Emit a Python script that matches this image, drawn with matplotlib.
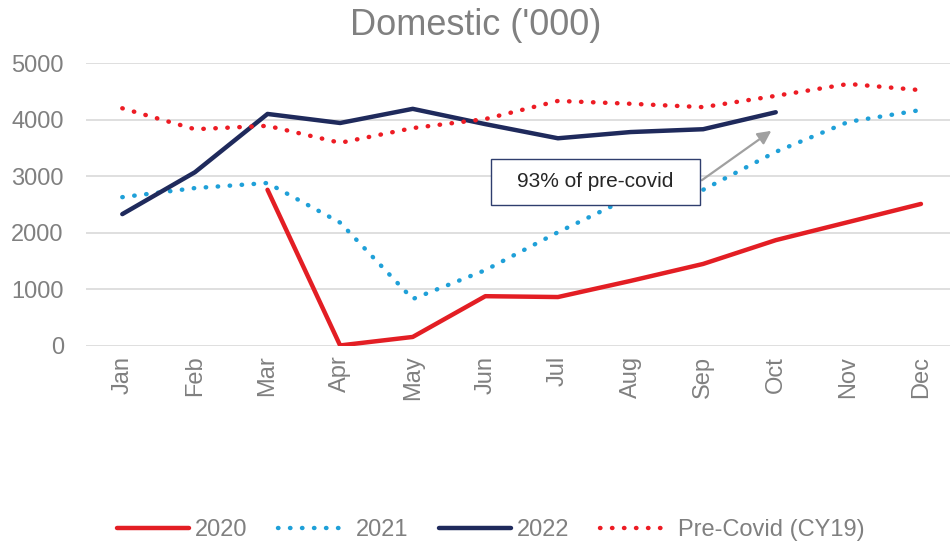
import matplotlib.pyplot as plt
from matplotlib.patches import Rectangle

plt.rcParams['font.family'] = ['Liberation Sans', 'DejaVu Sans']

months = ['Jan', 'Feb', 'Mar', 'Apr', 'May', 'Jun', 'Jul', 'Aug', 'Sep', 'Oct', 'Nov', 'Dec']
y2020 = [None, None, 2760, 10, 160, 880, 865, 1150, 1450, 1870, 2190, 2510]
y2021 = [2630, 2790, 2880, 2180, 830, 1340, 2010, 2630, 2760, 3430, 3960, 4170]
y2022 = [2330, 3070, 4100, 3940, 4190, 3920, 3670, 3780, 3830, 4130]
pre_covid = [4200, 3830, 3890, 3590, 3850, 4010, 4330, 4280, 4220, 4420, 4630, 4520]

fig = plt.figure(figsize=(9.51, 5.48), dpi=100)
ax = fig.add_axes([86 / 951, (548 - 346) / 548, (950 - 86) / 951, 283 / 548])

x = list(range(len(months)))
x20 = [i for i, v in zip(x, y2020) if v is not None]
v20 = [v for v in y2020 if v is not None]

ax.plot(x20, v20, color='#E31E24', lw=3.2, label='2020', solid_capstyle='round')
ax.plot(x, y2021, color='#1FA0D8', lw=3.2, linestyle=(0, (0.1, 2.6)), dash_capstyle='round', label='2021')
ax.plot(x[:len(y2022)], y2022, color='#1F2A5C', lw=3.2, label='2022', solid_capstyle='round')
ax.plot(x, pre_covid, color='#ED1C24', lw=3.2, linestyle=(0, (0.1, 2.6)), dash_capstyle='round', label='Pre-Covid (CY19)')

ax.set_xlim(-0.5, 11.4)
ax.set_ylim(0, 5000)
ax.set_yticks(range(0, 5001, 1000))
ax.set_xticks(x)
ax.set_xticklabels(months, rotation=90)
ax.tick_params(axis='both', length=0, labelsize=17, labelcolor='#808080')
ax.tick_params(axis='x', pad=7)
ax.tick_params(axis='y', pad=16)
ax.grid(axis='y', color='#D9D9D9', lw=1.2)
ax.set_axisbelow(True)
for s in ax.spines.values():
    s.set_visible(False)

# callout box and arrow
ax.add_patch(Rectangle((5.08, 2490), 2.87, 810, fc='white', ec='#2F3E6E', lw=1, zorder=5))
ax.text(6.51, 2900, '93% of pre-covid', fontsize=15, color='#262626', va='center', ha='center', zorder=6)
ax.annotate('', xy=(8.97, 3830), xytext=(7.95, 2900),
            arrowprops=dict(arrowstyle='-|>', color='#A0A0A0', lw=1.6, mutation_scale=20))

fig.text(0.5, 0.953, "Domestic ('000)", ha='center', va='center', fontsize=26, color='#808080')

fig.legend(loc='center', bbox_to_anchor=(0.516, 0.033), ncol=4, frameon=False, fontsize=17,
           labelcolor='#808080', handlelength=3.05, handletextpad=0.25, columnspacing=1.3)

fig.savefig('out.png', dpi=100)
